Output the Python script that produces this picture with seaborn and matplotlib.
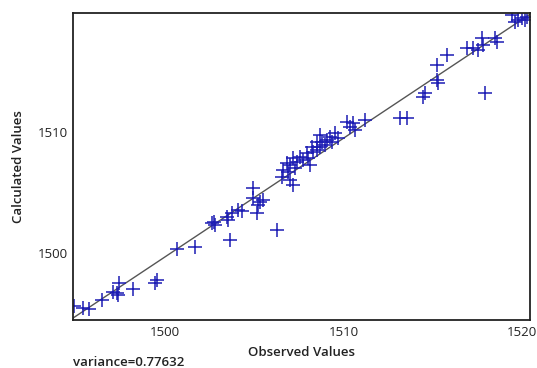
import matplotlib
matplotlib.use("Agg")
import matplotlib.pyplot as plt
import seaborn as sns
import pandas as pd

observed = [1494.90, 1495.41, 1495.74, 1496.47, 1497.09, 1497.42, 1497.37, 1497.31, 1498.21, 1499.44,
            1499.55, 1500.67, 1501.68, 1503.64, 1502.63, 1502.75, 1502.80, 1503.47, 1503.53, 1503.75,
            1504.09, 1504.31, 1504.93, 1504.93, 1505.32, 1505.49, 1505.15, 1505.21, 1506.27, 1506.55,
            1506.61, 1507.00, 1507.17, 1507.00, 1507.39, 1507.73, 1508.01, 1508.12, 1508.29, 1508.52,
            1508.68, 1508.80, 1508.96, 1509.08, 1509.24, 1509.36, 1509.52, 1509.69, 1508.68, 1510.20,
            1510.36, 1510.53, 1508.52, 1508.24, 1507.96, 1507.56, 1507.17, 1506.83, 1506.89, 1507.28,
            1510.64, 1511.20, 1513.17, 1513.56, 1514.45, 1514.57, 1515.24, 1515.29, 1515.24, 1515.80,
            1516.92, 1517.25, 1517.54, 1517.76, 1517.82, 1518.49, 1518.60, 1517.93, 1519.44, 1519.61,
            1519.78, 1520.00, 1520.17, 1520.28]
calculated = [1495.59, 1495.43, 1495.35, 1496.09, 1496.75, 1497.50, 1496.50, 1496.67, 1497.00, 1497.50,
              1497.74, 1500.31, 1500.47, 1501.05, 1502.45, 1502.54, 1502.29, 1502.95, 1502.70, 1503.28,
              1503.53, 1503.45, 1505.35, 1504.52, 1504.19, 1504.36, 1503.28, 1503.94, 1501.88, 1506.26,
              1506.84, 1506.01, 1505.60, 1507.25, 1507.50, 1507.66, 1507.83, 1507.25, 1508.32, 1508.49,
              1508.74, 1509.15, 1508.90, 1509.31, 1509.56, 1509.15, 1509.89, 1509.48, 1509.73, 1510.80,
              1510.39, 1510.72, 1509.15, 1508.74, 1508.24, 1507.91, 1507.83, 1507.41, 1506.67, 1507.00,
              1510.14, 1510.97, 1511.13, 1511.13, 1512.87, 1513.20, 1514.27, 1514.02, 1515.51, 1516.34,
              1516.92, 1516.92, 1516.75, 1517.74, 1517.17, 1517.74, 1517.41, 1513.20, 1519.64, 1519.07,
              1519.23, 1519.40, 1519.23, 1519.48]

fit_x = [1494.85, 1520.45]
fit_y = [1494.60, 1519.70]

x_ticks = [1500, 1510, 1520]
y_ticks = [1500, 1510]
variance_text = "variance=0.77632"

sns.set_theme(style="white")
plt.rcParams['font.family'] = ['Open Sans', 'DejaVu Sans']

fig = plt.figure(figsize=(5.37, 3.68), dpi=100)
ax = fig.add_axes([73/537, 1-320/368, (530-73)/537, (320-13)/368])

df = pd.DataFrame({"obs": observed, "calc": calculated})
line_df = pd.DataFrame({"x": fit_x, "y": fit_y})

sns.lineplot(data=line_df, x="x", y="y", ax=ax, color="#555555", linewidth=1.0, zorder=1)
sns.scatterplot(data=df, x="obs", y="calc", ax=ax, marker="+", s=90, color="#1c1cb4",
                linewidth=1.1, zorder=2)

ax.set_xlim(1494.85, 1520.45)
ax.set_ylim(1494.44, 1519.8)
ax.set_xticks(x_ticks)
ax.set_yticks(y_ticks)
ax.tick_params(axis="both", direction="inout", length=4, width=1, color="#222222",
               labelsize=9.5, labelcolor="#222222", pad=2)
for lbl in ax.get_xticklabels() + ax.get_yticklabels():
    lbl.set_fontweight("medium")
for sp in ax.spines.values():
    sp.set_visible(True)
    sp.set_color("#222222")
    sp.set_linewidth(1.3)

ax.set_xlabel("Observed Values", fontsize=9.5, fontweight="semibold", color="#222222", labelpad=5)
ax.set_ylabel("Calculated Values", fontsize=9.5, fontweight="semibold", color="#222222", labelpad=9)
fig.text(73/537, 1-362/368, variance_text, fontsize=9.5, fontweight="semibold", color="#222222",
         ha="left", va="center")

fig.savefig("out.png", dpi=100)
